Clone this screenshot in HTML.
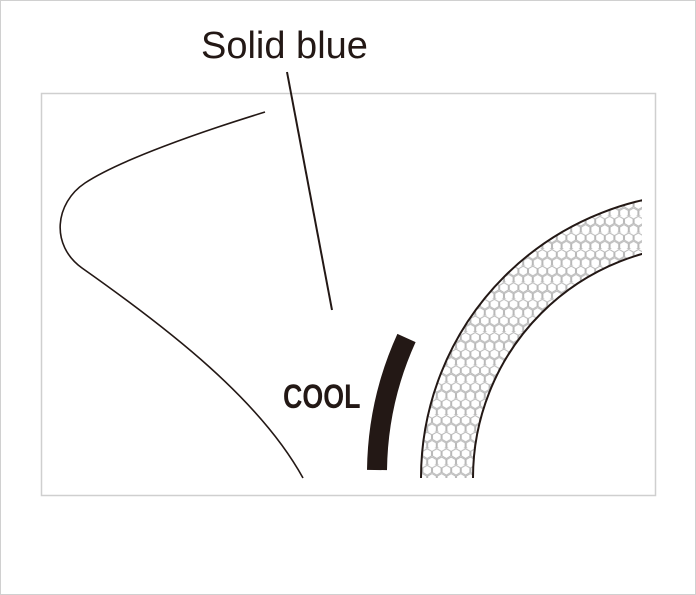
<!DOCTYPE html>
<html><head><style>
html,body{margin:0;padding:0;background:#fff;}
svg{display:block;}
</style></head><body>
<svg width="696" height="595" viewBox="0 0 696 595" xmlns="http://www.w3.org/2000/svg">
<defs>
<pattern id="hex" width="9.6" height="16.6" patternUnits="userSpaceOnUse">
<rect width="9.6" height="16.6" fill="#fff"/>
<path d="M4.8 0.5 L9.1 3 L9.1 7.8 L4.8 10.3 L0.5 7.8 L0.5 3 Z" fill="none" stroke="#b8b8b8" stroke-width="1"/>
<path d="M0 8.8 L4.3 11.3 L4.3 16.1 L0 18.6 M9.6 8.8 L5.3 11.3 L5.3 16.1 L9.6 18.6 M0 -0.2 L0 0 M4.3 11.3" fill="none" stroke="#b8b8b8" stroke-width="1"/>
</pattern>
<clipPath id="frame"><rect x="41" y="93" width="601" height="403"/></clipPath>
</defs>
<rect x="0.5" y="0.5" width="695" height="594" fill="#fff" stroke="#d0d0d0"/>
<rect x="41.5" y="93.5" width="614" height="402" fill="#fff" stroke="#cfcfcf" stroke-width="1.5"/>
<g clip-path="url(#frame)">
<path d="M421 478 A285 285 0 0 1 706 193 L706 245 A233 233 0 0 0 473 478 Z" fill="url(#hex)"/>
<path d="M421 478 A285 285 0 0 1 706 193" fill="none" stroke="#231815" stroke-width="2"/>
<path d="M473 478 A233 233 0 0 1 706 245" fill="none" stroke="#231815" stroke-width="2"/>
</g>
<path d="M377 470 A329 329 0 0 1 406.5 338" fill="none" stroke="#231815" stroke-width="20"/>
<path d="M265 112 C200 132 120 160 85 183 C55 203 50 245 82 268 C170 330 260 400 303 478" fill="none" stroke="#231815" stroke-width="1.6"/>
<line x1="287" y1="72" x2="332" y2="310" stroke="#231815" stroke-width="2"/>
<text x="201" y="58" font-family="Liberation Sans, sans-serif" font-size="38" fill="#231815">Solid blue</text>
<text x="0" y="0" transform="translate(283,408) scale(0.79,1)" font-family="Liberation Sans, sans-serif" font-weight="bold" font-size="34" fill="#231815">COOL</text>
</svg>
</body></html>
